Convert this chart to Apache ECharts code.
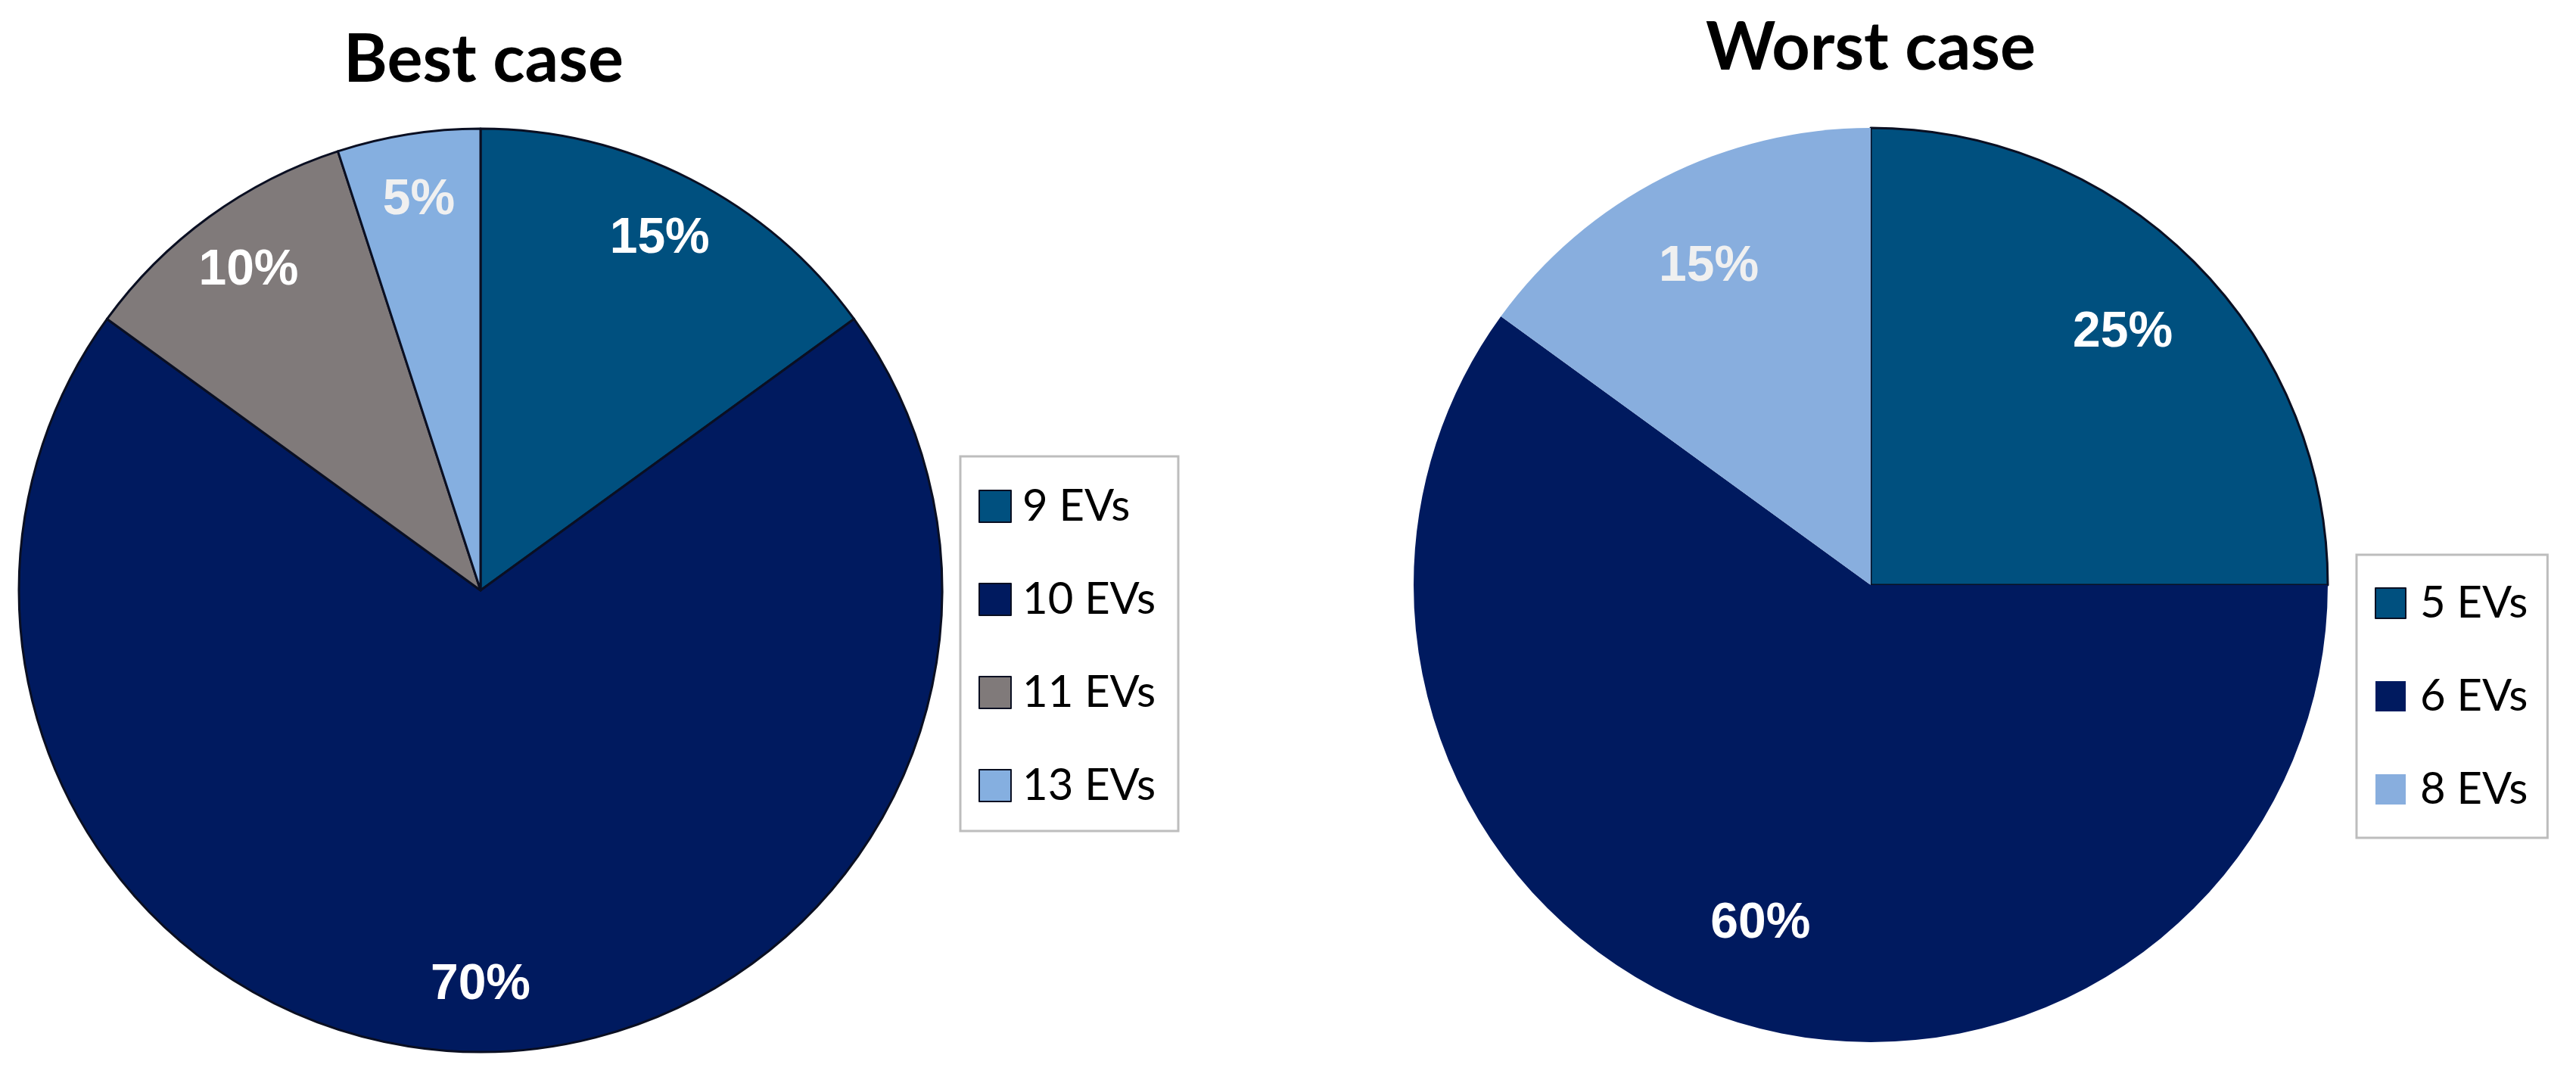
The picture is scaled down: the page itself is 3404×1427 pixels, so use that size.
<!DOCTYPE html>
<html>
<head>
<meta charset="utf-8">
<script src="https://cdn.jsdelivr.net/npm/echarts@6/dist/echarts.min.js"></script>
<style>
html,body{margin:0;padding:0;background:#fff;}
#chart{width:3404px;height:1427px;}
</style>
</head>
<body>
<div id="chart"></div>
<script>
// ---- data ----
const bestTitle = 'Best case';
const bestNames = ['9 EVs', '10 EVs', '11 EVs', '13 EVs'];
const bestValues = [15, 70, 10, 5];
const bestColors = ['#00507f', '#001a5f', '#807a7a', '#85afe0'];

const worstTitle = 'Worst case';
const worstNames = ['5 EVs', '6 EVs', '8 EVs'];
const worstValues = [25, 60, 15];
const worstColors = ['#00507f', '#001a5f', '#88aede'];

// ---- layout ----
const leftCenter = [635, 780], leftR = 610;
const rightCenter = [2472, 773], rightR = 604;

const chart = echarts.init(document.getElementById('chart'), null, {renderer: 'canvas'});

function mainData(names, values, colors, borders) {
  return names.map((n, i) => ({
    name: n, value: values[i],
    itemStyle: {color: colors[i], borderColor: '#0a0f22', borderWidth: borders[i]}
  }));
}
function labelData(names, values, labelColors) {
  return names.map((n, i) => ({
    name: n, value: values[i],
    label: {color: labelColors[i]}
  }));
}

const labelFont = {fontFamily: 'Liberation Sans', fontWeight: 'bold', fontSize: 66};

const option = {
  backgroundColor: '#ffffff',
  animation: false,
  graphic: [
    {type: 'text', x: 639, y: 80, style: {text: bestTitle, fill: '#000', font: 'bold 88px Lato', align: 'center', verticalAlign: 'middle'}},
    {type: 'text', x: 2472, y: 64, style: {text: worstTitle, fill: '#000', font: 'bold 88px Lato', align: 'center', verticalAlign: 'middle'}}
  ],
  legend: [
    {
      data: bestNames, orient: 'vertical', left: 1269, top: 603,
      padding: [36, 30, 30, 24], itemGap: 63, itemWidth: 42, itemHeight: 42,
      borderColor: '#bdbdbd', borderWidth: 3, icon: 'rect',
      textStyle: {fontFamily: 'Lato', fontSize: 58, color: '#000', lineHeight: 60, padding: [0, 0, 0, 10]},
      selectedMode: false
    },
    {
      data: worstNames, orient: 'vertical', left: 3114, top: 733,
      padding: [34, 26, 34, 24], itemGap: 63, itemWidth: 40, itemHeight: 40,
      borderColor: '#bdbdbd', borderWidth: 3, icon: 'rect',
      textStyle: {fontFamily: 'Lato', fontSize: 58, color: '#000', lineHeight: 60, padding: [0, 0, 0, 14]},
      selectedMode: false
    }
  ],
  series: [
    {
      type: 'pie', center: leftCenter, radius: [0, leftR], startAngle: 90, clockwise: true,
      label: {show: false}, labelLine: {show: false}, silent: true,
      data: mainData(bestNames, bestValues, bestColors, [3, 3, 3, 3])
    },
    {
      type: 'pie', center: rightCenter, radius: [0, rightR], startAngle: 90, clockwise: true,
      label: {show: false}, labelLine: {show: false}, silent: true,
      data: mainData(worstNames, worstValues, worstColors, [3, 0, 0])
    },
    {
      type: 'pie', center: leftCenter, radius: [leftR * 0.7, leftR], startAngle: 90, clockwise: true,
      silent: true, legendHoverLink: false,
      itemStyle: {color: 'rgba(0,0,0,0)', borderWidth: 0},
      label: Object.assign({show: true, position: 'inside', formatter: '{c}%'}, labelFont),
      labelLine: {show: false},
      data: labelData(bestNames, bestValues, ['#ffffff', '#ffffff', '#ffffff', '#f0f0f0'])
    },
    {
      type: 'pie', center: rightCenter, radius: [rightR * 0.55, rightR], startAngle: 90, clockwise: true,
      silent: true, legendHoverLink: false,
      itemStyle: {color: 'rgba(0,0,0,0)', borderWidth: 0},
      label: Object.assign({show: true, position: 'inside', formatter: '{c}%'}, labelFont),
      labelLine: {show: false},
      data: labelData(worstNames, worstValues, ['#ffffff', '#ffffff', '#f0f0f0'])
    }
  ]
};
chart.setOption(option);
</script>
</body>
</html>
